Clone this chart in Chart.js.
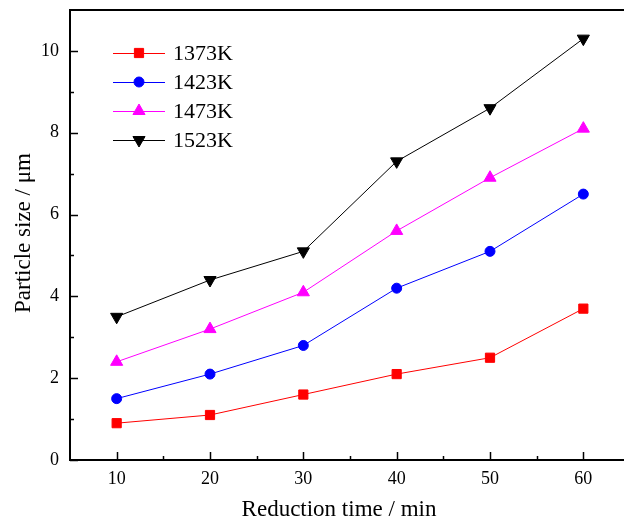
<!DOCTYPE html>
<html lang="en">
  <head>
    <meta charset="UTF-8" />
    <title>Particle size vs reduction time</title>
    <script src="https://cdn.jsdelivr.net/npm/chart.js@4/dist/chart.umd.min.js"></script>
    <style>
      html,
      body {
        margin: 0;
        padding: 0;
        background: #ffffff;
        overflow: hidden;
      }
    </style>
  </head>
  <body>
    <canvas id="chart" width="640" height="522"></canvas>

    <script>
      const times = [10, 20, 30, 40, 50, 60]
      const size1373 = [0.9, 1.1, 1.6, 2.1, 2.5, 3.7]
      const size1423 = [1.5, 2.1, 2.8, 4.2, 5.1, 6.5]
      const size1473 = [2.4, 3.2, 4.1, 5.6, 6.9, 8.1]
      const size1523 = [3.5, 4.4, 5.1, 7.3, 8.6, 10.3]

      const xTicks = [10, 20, 30, 40, 50, 60]
      const xMinorTicks = [15, 25, 35, 45, 55, 65]
      const yTicks = [0, 2, 4, 6, 8, 10]
      const yMinorTicks = [1, 3, 5, 7, 9]

      const serif = '"Liberation Serif", "Times New Roman", serif'

      function makeSeries(label, values, color, style, radius, rotation) {
        return {
          label: label,
          data: times.map((t, i) => ({ x: t, y: values[i] })),
          borderColor: color,
          backgroundColor: color,
          borderWidth: 1,
          pointStyle: style,
          pointRadius: radius,
          pointRotation: rotation,
          pointBorderWidth: 1,
          pointBackgroundColor: color,
          pointBorderColor: color,
          tension: 0,
        }
      }

      const datasets = [
        makeSeries('1373K', size1373, '#ff0000', 'rect', 6.5, 0),
        makeSeries('1423K', size1423, '#0000ff', 'circle', 5, 0),
        makeSeries('1473K', size1473, '#ff00ff', 'triangle', 7, 0),
        makeSeries('1523K', size1523, '#000000', 'triangle', 7, 180),
      ]

      // frame, inward tick marks, axis titles and the legend box
      const decorations = {
        id: 'decorations',
        beforeDatasetsDraw(chart) {
          const ctx = chart.ctx
          const area = chart.chartArea
          const xs = chart.scales.x
          const ys = chart.scales.y
          ctx.save()
          ctx.strokeStyle = '#000000'
          ctx.lineWidth = 1.5
          xTicks.forEach(v => {
            const px = Math.round(xs.getPixelForValue(v)) + 0.5
            ctx.beginPath()
            ctx.moveTo(px, area.bottom)
            ctx.lineTo(px, area.bottom - 8)
            ctx.stroke()
          })
          xMinorTicks.forEach(v => {
            const px = Math.round(xs.getPixelForValue(v)) + 0.5
            ctx.beginPath()
            ctx.moveTo(px, area.bottom)
            ctx.lineTo(px, area.bottom - 4)
            ctx.stroke()
          })
          yTicks.forEach(v => {
            const py = Math.round(ys.getPixelForValue(v)) + 0.5
            ctx.beginPath()
            ctx.moveTo(area.left, py)
            ctx.lineTo(area.left + 8, py)
            ctx.stroke()
          })
          yMinorTicks.forEach(v => {
            const py = Math.round(ys.getPixelForValue(v)) + 0.5
            ctx.beginPath()
            ctx.moveTo(area.left, py)
            ctx.lineTo(area.left + 4, py)
            ctx.stroke()
          })
          ctx.lineWidth = 2
          ctx.strokeRect(area.left, area.top, area.right - area.left, area.bottom - area.top)
          ctx.restore()
        },
        afterDraw(chart) {
          const ctx = chart.ctx
          const area = chart.chartArea
          ctx.save()
          ctx.fillStyle = '#000000'
          ctx.font = '23px ' + serif
          ctx.textAlign = 'center'
          ctx.textBaseline = 'alphabetic'
          ctx.fillText('Reduction time / min', 339, 516)

          ctx.translate(30, 233)
          ctx.rotate(-Math.PI / 2)
          ctx.fillText('Particle size / \u03bcm', 0, 0)
          ctx.restore()

          // legend
          ctx.save()
          ctx.font = '22px ' + serif
          ctx.textAlign = 'left'
          ctx.textBaseline = 'middle'
          chart.data.datasets.forEach((ds, i) => {
            const y = 53 + i * 29
            ctx.strokeStyle = ds.borderColor
            ctx.lineWidth = 1
            ctx.beginPath()
            ctx.moveTo(113, y + 0.5)
            ctx.lineTo(165, y + 0.5)
            ctx.stroke()
            ctx.fillStyle = ds.pointBackgroundColor
            ctx.strokeStyle = ds.pointBorderColor
            Chart.helpers.drawPoint(
              ctx,
              {
                pointStyle: ds.pointStyle,
                radius: ds.pointRadius,
                rotation: ds.pointRotation,
                borderWidth: 1,
              },
              139,
              y
            )
            ctx.fillStyle = '#000000'
            ctx.fillText(ds.label, 173, y + 1)
          })
          ctx.restore()
        },
      }

      new Chart(document.getElementById('chart'), {
        type: 'line',
        data: { datasets: datasets },
        plugins: [decorations],
        options: {
          responsive: false,
          animation: false,
          layout: { padding: { left: 0, top: 10, right: 10, bottom: 0 } },
          plugins: {
            legend: { display: false },
            tooltip: { enabled: false },
          },
          scales: {
            x: {
              type: 'linear',
              min: 5,
              max: 65,
              afterFit: scale => {
                scale.height = 62
                scale.paddingLeft = 0
                scale.paddingRight = 0
              },
              afterBuildTicks: scale => {
                scale.ticks = xTicks.map(v => ({ value: v }))
              },
              grid: { display: false, drawTicks: false },
              border: { display: false },
              ticks: {
                padding: 8,
                color: '#000000',
                font: { family: serif, size: 18 },
              },
            },
            y: {
              min: 0,
              max: 11,
              afterFit: scale => {
                scale.width = 70
                scale.paddingTop = 0
                scale.paddingBottom = 0
              },
              afterBuildTicks: scale => {
                scale.ticks = yTicks.map(v => ({ value: v }))
              },
              grid: { display: false, drawTicks: false },
              border: { display: false },
              ticks: {
                padding: 11,
                color: '#000000',
                font: { family: serif, size: 18 },
              },
            },
          },
        },
      })
    </script>
  </body>
</html>
